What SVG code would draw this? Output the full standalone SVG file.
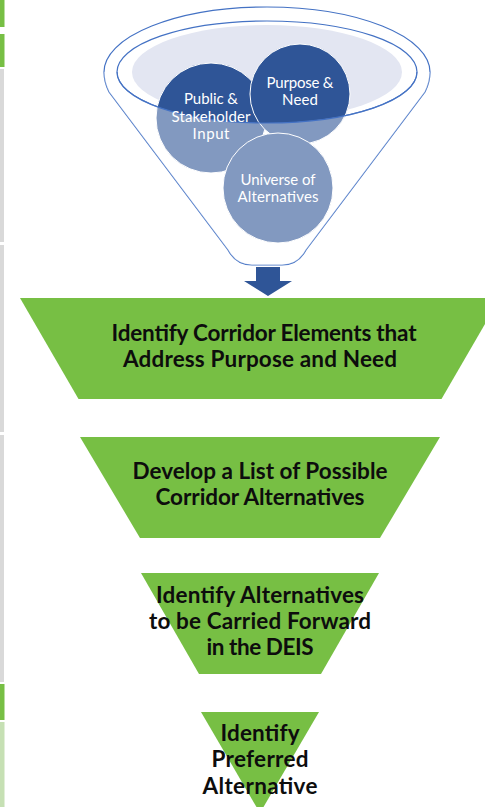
<svg xmlns="http://www.w3.org/2000/svg" width="485" height="807" viewBox="0 0 485 807">
  <style>
    .rim { fill: none; stroke: #4472C4; stroke-width: 1.2; }
    .disc { fill: #2F5597; stroke: #FFFFFF; stroke-width: 1; }
    .disc-label { font-family: Lato, "Liberation Sans", sans-serif; font-size: 15px; fill: #FFFFFF; text-anchor: middle; }
    .step { fill: #77BF44; }
    .step-label { font-family: Lato, "Liberation Sans", sans-serif; font-weight: bold; font-size: 22.5px; fill: #0D0D0D; text-anchor: middle; }
  </style>

  <rect width="485" height="807" fill="#FFFFFF"/>

  <!-- side tabs along the left edge -->
  <g id="side-tabs">
    <rect x="0" y="0" width="4.5" height="27" fill="#77BF44"/>
    <rect x="0" y="34" width="4.5" height="33" fill="#77BF44"/>
    <rect x="0" y="69" width="4" height="173" fill="#D9D9D9"/>
    <rect x="0" y="245" width="4" height="187" fill="#D9D9D9"/>
    <rect x="0" y="435" width="4" height="247" fill="#D9D9D9"/>
    <rect x="0" y="684" width="4.5" height="36" fill="#77BF44"/>
    <rect x="0" y="722" width="4.5" height="85" fill="#C6E0B4"/>
  </g>

  <!-- funnel with input discs -->
  <g id="funnel">
    <path class="rim" fill="#FFFFFF" d="M104,72 A163,65 0 0 1 430,72 C430,80 428,86 425,92 L306,250 Q298,265 282,265 L252,265 Q236,265 228,250 L109,92 C106,86 104,80 104,72 Z"/>
    <ellipse class="rim" fill="#FFFFFF" cx="267" cy="72" rx="150" ry="51"/>
    <ellipse cx="267" cy="72" rx="135" ry="47" fill="#E3E6F2"/>
  </g>

  <g id="node-public">
    <circle class="disc" cx="211" cy="118" r="55"/>
  </g>
  <g id="node-purpose">
    <circle class="disc" cx="300" cy="94" r="50"/>
  </g>
  <g id="node-universe">
    <circle class="disc" cx="278" cy="188" r="55"/>
  </g>

  <!-- front face of the funnel, lightening the discs below the rim -->
  <path fill="#FFFFFF" fill-opacity="0.4" d="M117,72 A150,51 0 0 0 417,72 L430,72 C430,80 428,86 425,92 L306,250 Q298,265 282,265 L252,265 Q236,265 228,250 L109,92 C106,86 104,80 104,72 Z"/>
  <path class="rim" d="M117,72 A150,51 0 0 0 417,72"/>

  <g id="disc-labels">
    <text class="disc-label" x="211" y="104" textLength="54">Public &amp;</text>
    <text class="disc-label" x="211" y="122" textLength="79">Stakeholder</text>
    <text class="disc-label" x="211" y="139" textLength="37">Input</text>
    <text class="disc-label" x="300" y="88" textLength="67">Purpose &amp;</text>
    <text class="disc-label" x="300" y="105" textLength="36">Need</text>
    <text class="disc-label" x="278" y="185" textLength="75">Universe of</text>
    <text class="disc-label" x="278" y="202" textLength="81">Alternatives</text>
  </g>

  <!-- connector: funnel output arrow -->
  <g id="connectors">
    <path d="M256,267 L280,267 L280,281 L292,281 L268,296 L244,281 L256,281 Z" fill="#2F5597"/>
  </g>

  <g id="step-1">
    <polygon class="step" points="20,298 500,298 441.5,399 78.5,399"/>
    <text class="step-label" x="264" y="341" textLength="305">Identify Corridor Elements that</text>
    <text class="step-label" x="260" y="367" textLength="274">Address Purpose and Need</text>
  </g>

  <g id="step-2">
    <polygon class="step" points="80,437 440,437 380,538 140,538"/>
    <text class="step-label" x="260" y="479" textLength="255">Develop a List of Possible</text>
    <text class="step-label" x="260" y="505" textLength="209">Corridor Alternatives</text>
  </g>

  <g id="step-3">
    <polygon class="step" points="141,573 379,573 321,674 199,674"/>
    <text class="step-label" x="260" y="603" textLength="208">Identify Alternatives</text>
    <text class="step-label" x="260" y="629" textLength="222">to be Carried Forward</text>
    <text class="step-label" x="260" y="655" textLength="107">in the DEIS</text>
  </g>

  <g id="step-4">
    <polygon class="step" points="201,712 319,712 260,813"/>
    <text class="step-label" x="260" y="741" textLength="79">Identify</text>
    <text class="step-label" x="260" y="767" textLength="97">Preferred</text>
    <text class="step-label" x="260" y="794" textLength="115">Alternative</text>
  </g>
</svg>
